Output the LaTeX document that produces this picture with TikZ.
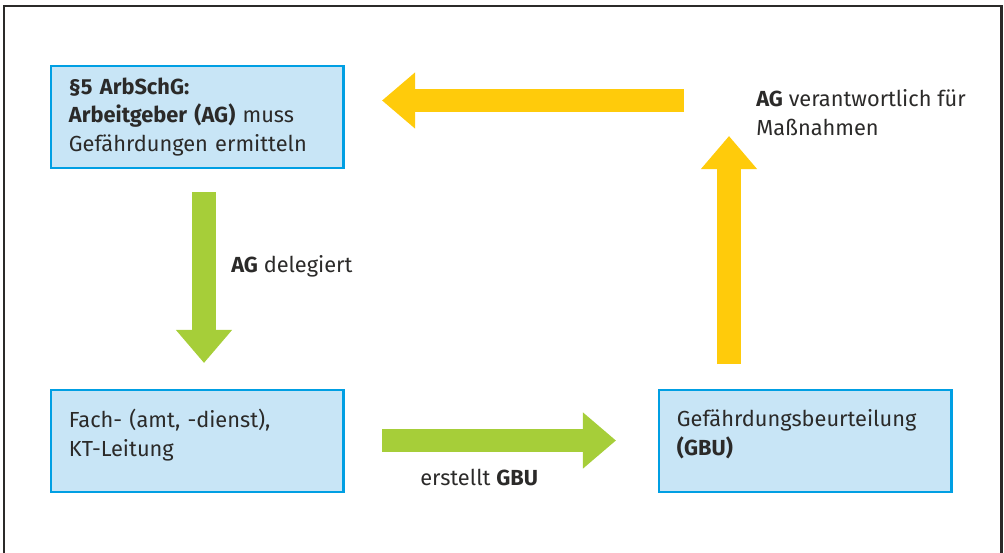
\documentclass[tikz,border=0pt]{standalone}
\usepackage{fontspec}
\setmainfont{Fira Sans}
\usetikzlibrary{arrows.meta}

\definecolor{boxfill}{HTML}{C8E5F6}
\definecolor{boxline}{HTML}{009FE3}
\definecolor{gelb}{HTML}{FFCB0B}
\definecolor{gruen}{HTML}{A6CE39}
\definecolor{textdark}{HTML}{2B2A29}

\tikzset{
  infobox/.style={draw=boxline, fill=boxfill, line width=2.1pt, anchor=north west,
    minimum width=7.3cm, minimum height=2.55cm, inner xsep=0.45cm, text width=6.4cm,
    align=left, font=\fontsize{15.5}{20.3}\selectfont, text=textdark},
  lbl/.style={anchor=base west, inner sep=0pt, align=left,
    font=\fontsize{15.5}{20.3}\selectfont, text=textdark},
  blockarrow/.style={line width=16.7pt, -{Triangle[length=23.5pt,width=38.4pt]}},
}

\begin{document}
\begin{tikzpicture}[x=0.025cm, y=-0.025cm]
  \useasboundingbox (0,0) rectangle (1004,552);
  % frame
  \draw[textdark, line width=1.8pt] (4,6) rectangle (1001.5,575);

  % boxes
  \node[infobox] (ag) at (49.5,64.5)
    {\textbf{§5 ArbSchG:}\\\textbf{Arbeitgeber (AG)} muss\\Gefährdungen ermitteln};
  \node[infobox, text depth=32pt] (fach) at (49.5,388.5) {Fach- (amt, -dienst),\\KT-Leitung};
  \node[infobox, text depth=32pt] (gbu) at (657.5,388.5) {Gefährdungsbeurteilung\\\textbf{(GBU)}};

  % arrow ends
  \coordinate (delegA) at (204,192);
  \coordinate (delegB) at (204,363);
  \coordinate (erstA) at (382,440.5);
  \coordinate (erstB) at (616,440.5);
  \coordinate (verantA) at (729,364);
  \coordinate (verantB) at (729,136);
  \coordinate (rueckA) at (684,100.5);
  \coordinate (rueckB) at (382,100.5);

  \draw[blockarrow, gruen] (delegA) -- (delegB);
  \draw[blockarrow, gruen] (erstA) -- (erstB);
  \draw[blockarrow, gelb] (verantA) -- (verantB);
  \draw[blockarrow, gelb] (rueckA) -- (rueckB);

  % labels
  \node[lbl] (lbldeleg) at (231,272) {\textbf{AG} delegiert};
  \node[lbl] (lblerst) at (420,485) {erstellt \textbf{GBU}};
  \node[lbl] (lblverant) at (756,135) {\textbf{AG} verantwortlich für\\Maßnahmen};
\end{tikzpicture}
\end{document}
